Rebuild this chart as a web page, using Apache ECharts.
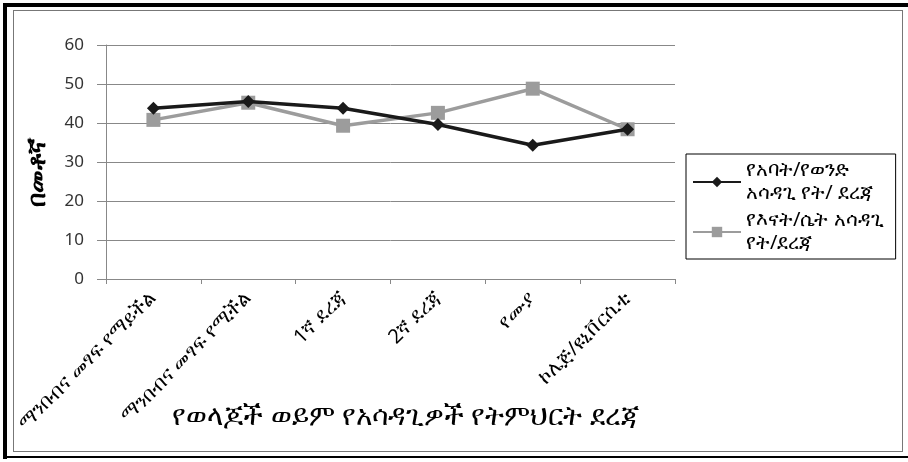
<!DOCTYPE html>
<html>
<head>
	<meta charset="UTF-8">
	<title>chart</title>
	<script src="https://cdn.jsdelivr.net/npm/echarts@6/dist/echarts.min.js"></script>
	<style>
		body { margin: 0; background: #fff; }
		#wrap { position: relative; width: 908px; height: 462px; overflow: hidden; }
		#graph { position: absolute; left: 0; top: 0; width: 908px; height: 462px; }
		.b { position: absolute; pointer-events: none; }
	</style>
</head>
<body>
	<div id="wrap">
		<div id="graph"></div>
		<!-- outer black frame and inner grey chart border -->
		<div class="b" style="left:3px;top:3px;width:905px;height:4px;background:#000"></div>
		<div class="b" style="left:3px;top:3px;width:4px;height:456px;background:#000"></div>
		<div class="b" style="left:3px;top:456px;width:905px;height:2px;background:#000"></div>
		<div class="b" style="left:13px;top:10px;width:888px;height:440px;border:1px solid #777"></div>
	</div>
	<script>
		var categories = ['ማንበብና መፃፍ የማይችል', 'ማንበብና መፃፍ የሚችል', '1ኛ ደረጃ', '2ኛ ደረጃ', 'የሙያ', 'ኮሌጅ/ዩኒቨርሲቲ'];
		var fatherValues = [43.8, 45.5, 43.8, 39.6, 34.3, 38.4];
		var motherValues = [40.8, 45.2, 39.3, 42.6, 48.8, 38.4];
		var seriesNames = ['የአባት/የወንድ\nአሳዳጊ የት/ ደረጃ', 'የእናት/ሴት አሳዳጊ\nየት/ደረጃ'];
		var yTitle = 'በመቶኛ';
		var xTitle = 'የወላጆች ወይም የአሳዳጊዎች የትምህርት ደረጃ';

		var fontFam = '"Noto Sans", "DejaVu Sans", sans-serif';
		var chart = echarts.init(document.getElementById('graph'), null, { renderer: 'canvas' });
		chart.setOption({
			backgroundColor: '#fff',
			animation: false,
			textStyle: { fontFamily: fontFam },
			grid: { left: 106, right: 233, top: 45, bottom: 183, outerBoundsMode: 'none' },
			legend: {
				orient: 'vertical',
				left: 686, top: 154,
				padding: [5, 12, 4, 6],
				itemGap: 4,
				itemWidth: 48, itemHeight: 13,
				borderColor: '#000', borderWidth: 1,
				textStyle: { fontSize: 20, color: '#000', lineHeight: 23, fontFamily: fontFam },
				data: seriesNames
			},
			xAxis: {
				type: 'category',
				data: categories,
				boundaryGap: true,
				axisLine: { lineStyle: { color: '#888' } },
				axisTick: { show: true, length: 5, lineStyle: { color: '#888' } },
				axisLabel: { rotate: 45, margin: 16, fontSize: 20, color: '#000', interval: 0 },
				name: xTitle,
				nameLocation: 'middle',
				nameGap: 124,
				nameMoveOverlap: false,
				nameTextStyle: { fontSize: 28, color: '#000', padding: [0, 0, 0, 30] }
			},
			yAxis: {
				type: 'value',
				min: 0, max: 60, interval: 10,
				axisLine: { show: true, lineStyle: { color: '#888' } },
				axisTick: { show: true, length: 9, lineStyle: { color: '#888' } },
				axisLabel: { fontSize: 17, color: '#333', margin: 22 },
				splitLine: { lineStyle: { color: '#888' } },
				name: yTitle,
				nameLocation: 'middle',
				nameGap: 56,
				nameMoveOverlap: false,
				nameRotate: 90,
				nameTextStyle: { fontSize: 25, fontWeight: 'bold', color: '#000', padding: [0, 20, 0, 0] }
			},
			series: [
				{
					name: seriesNames[0], type: 'line', data: fatherValues,
					symbol: 'diamond', symbolSize: 13,
					lineStyle: { color: '#1a1a1a', width: 3.5 },
					itemStyle: { color: '#1a1a1a' },
					z: 3
				},
				{
					name: seriesNames[1], type: 'line', data: motherValues,
					symbol: 'rect', symbolSize: 14,
					lineStyle: { color: '#9c9c9c', width: 3.5 },
					itemStyle: { color: '#9c9c9c' },
					z: 2
				}
			]
		});
	</script>
</body>
</html>
